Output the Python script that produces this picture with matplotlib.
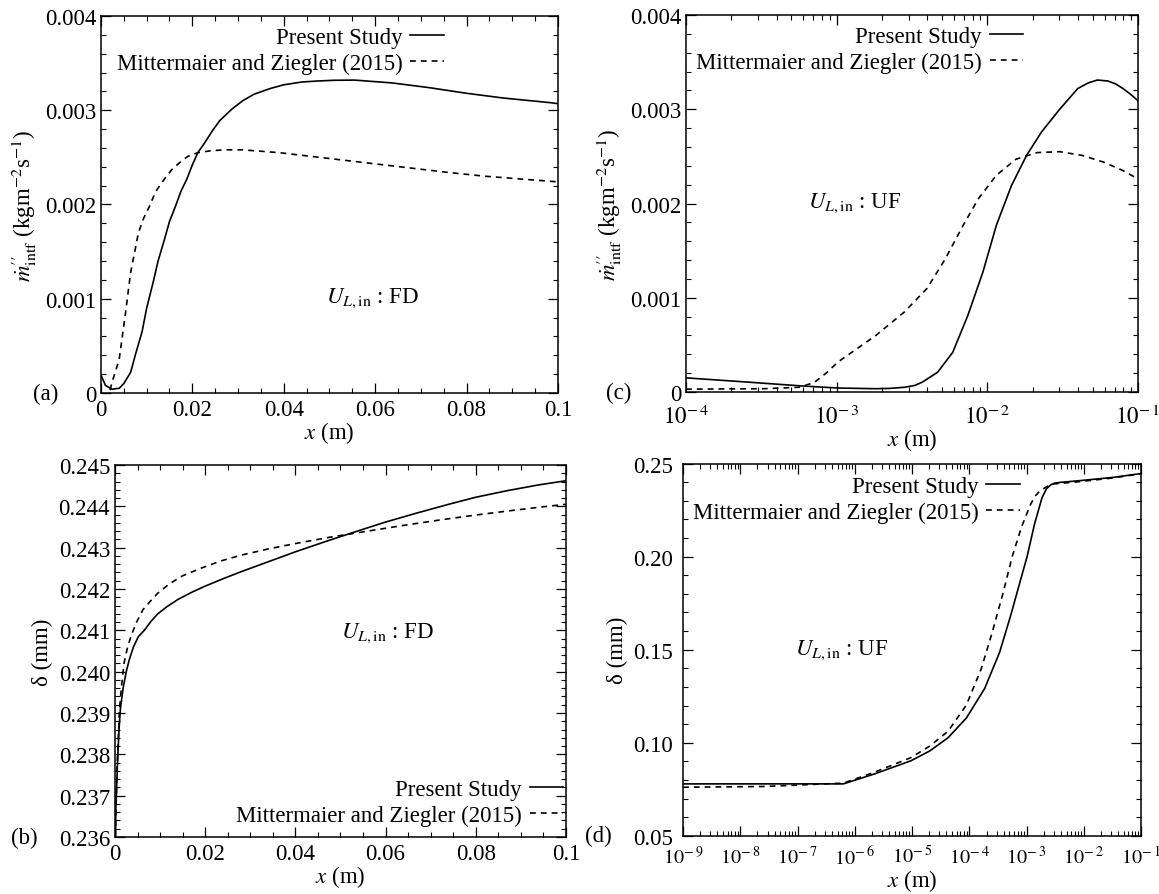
import numpy as np
import matplotlib
matplotlib.use('Agg')
import matplotlib.pyplot as plt
from matplotlib.ticker import MultipleLocator, FormatStrFormatter, LogLocator, NullFormatter, FuncFormatter

plt.rcParams['font.family'] = ['Liberation Serif', 'DejaVu Serif']
plt.rcParams['mathtext.fontset'] = 'stix'
plt.rcParams['font.size'] = 16.5

# (a) mass flux, FD inlet, linear x
xa_ps = [0.0, 0.001, 0.0024, 0.004, 0.005, 0.0065, 0.0075, 0.009, 0.010, 0.0114, 0.0125, 0.0139,
         0.015, 0.0163, 0.0175, 0.0188, 0.020, 0.0212, 0.0225, 0.0245, 0.026, 0.0286, 0.031, 0.0335,
         0.037, 0.040, 0.044, 0.0473, 0.051, 0.0555, 0.0637, 0.0718, 0.080, 0.088, 0.0984, 0.1]
ya_ps = [0.00019, 0.00008, 0.00004, 0.00005, 0.0001, 0.00022, 0.0004, 0.00065, 0.0009, 0.00117,
         0.0014, 0.00163, 0.00182, 0.00198, 0.00214, 0.00227, 0.00242, 0.00255, 0.00264, 0.00279,
         0.00289, 0.00301, 0.0031, 0.00317, 0.00323, 0.00327, 0.0033, 0.00331, 0.003318, 0.00332,
         0.00329, 0.00324, 0.00318, 0.00313, 0.00308, 0.00307]
xa_mz = [0.002, 0.00245, 0.003, 0.004, 0.0053, 0.0065, 0.0074, 0.0082, 0.0093, 0.0106, 0.012,
         0.0139, 0.0155, 0.0171, 0.019, 0.0212, 0.024, 0.027, 0.031, 0.039, 0.0514, 0.0637, 0.076,
         0.084, 0.092, 0.1]
ya_mz = [0.00003, 0.00012, 0.0002, 0.00036, 0.00082, 0.00128, 0.0015, 0.0017, 0.00185, 0.00198,
         0.00214, 0.00227, 0.00237, 0.00244, 0.00251, 0.00255, 0.00257, 0.00258, 0.00258, 0.00255,
         0.00248, 0.00241, 0.00234, 0.0023, 0.00227, 0.00224]

# (c) mass flux, UF inlet, log x
xc_ps = [1e-4, 10**-3.6, 10**-3.23, 10**-2.99, 10**-2.74, 10**-2.65, 10**-2.55, 10**-2.48, 10**-2.43,
         10**-2.33, 10**-2.23, 10**-2.13, 10**-2.03, 10**-1.94, 10**-1.84, 10**-1.74, 10**-1.64,
         10**-1.52, 10**-1.40, 10**-1.33, 10**-1.27, 10**-1.20, 10**-1.15, 10**-1.10, 10**-1.05, 1e-1]
yc_ps = [0.00015, 0.000106, 0.000064, 0.000042, 0.000035, 0.000038, 0.00005, 0.00007, 0.000106,
         0.00021, 0.00042, 0.00081, 0.00127, 0.00177, 0.00219, 0.00251, 0.00276, 0.0030, 0.00322,
         0.00328, 0.00331, 0.0033, 0.00327, 0.00322, 0.00316, 0.00309]
xc_mz = [1e-4, 10**-3.48, 10**-3.25, 10**-3.15, 10**-3.07, 10**-2.99, 10**-2.74, 10**-2.55, 10**-2.40,
         10**-2.28, 10**-2.16, 10**-2.06, 10**-1.94, 10**-1.81, 10**-1.67, 10**-1.52, 10**-1.37,
         10**-1.23, 10**-1.10, 1e-1]
yc_mz = [0.00003, 0.000035, 0.00005, 0.0001, 0.0002, 0.00032, 0.0006, 0.00085, 0.0011, 0.00141,
         0.00177, 0.00205, 0.0023, 0.00247, 0.00254, 0.00255, 0.00251, 0.00244, 0.00235, 0.00226]

# (b) film thickness, FD inlet, linear x
xb_ps = [0.0001, 0.0002, 0.0006, 0.0009, 0.0012, 0.0018, 0.0025, 0.0032, 0.0041, 0.0052, 0.0065,
         0.008, 0.0095, 0.0115, 0.014, 0.017, 0.020, 0.024, 0.028, 0.033, 0.040, 0.047, 0.054, 0.060,
         0.067, 0.074, 0.080, 0.087, 0.094, 0.1]
yb_ps = [0.2360, 0.2367, 0.2379, 0.2386, 0.2391, 0.2396, 0.2400, 0.2403, 0.2406, 0.24085, 0.2410,
         0.24122, 0.2414, 0.24157, 0.24175, 0.24192, 0.24207, 0.24225, 0.24242, 0.24262, 0.24290,
         0.24316, 0.24341, 0.24362, 0.24384, 0.24405, 0.24422, 0.24438, 0.24452, 0.24462]
xb_mz = [0.0001, 0.0004, 0.001, 0.0015, 0.002, 0.0028, 0.0037, 0.0048, 0.0062, 0.0078, 0.0095,
         0.012, 0.015, 0.019, 0.0235, 0.028, 0.034, 0.040, 0.048, 0.056, 0.064, 0.072, 0.080, 0.088,
         0.095, 0.1]
yb_mz = [0.2360, 0.2375, 0.2391, 0.2397, 0.2402, 0.2406, 0.2409, 0.2412, 0.2415, 0.2417, 0.2419,
         0.24212, 0.24232, 0.24250, 0.24268, 0.24282, 0.24297, 0.24310, 0.24326, 0.24340, 0.24354,
         0.24367, 0.24379, 0.24390, 0.24399, 0.24405]

# (d) film thickness, UF inlet, log x
xd_ps = [1e-9, 10**-6.2, 10**-5.66, 10**-5.02, 10**-4.69, 10**-4.37, 10**-4.05, 10**-3.73, 10**-3.47,
         10**-3.28, 10**-3.12, 10**-2.99, 10**-2.86, 10**-2.73, 10**-2.65, 10**-2.57, 10**-2.5,
         10**-2.4, 10**-2.32, 10**-2.0, 10**-1.5, 1e-1]
yd_ps = [0.0779, 0.0779, 0.0832, 0.0903, 0.0956, 0.1027, 0.1133, 0.1292, 0.1486, 0.168, 0.1857,
         0.200, 0.2175, 0.2316, 0.2365, 0.2387, 0.2395, 0.2399, 0.2401, 0.2410, 0.2425, 0.2446]
xd_mz = [1e-9, 10**-7.59, 10**-6.2, 10**-5.66, 10**-5.02, 10**-4.69, 10**-4.37, 10**-4.05, 10**-3.79,
         10**-3.60, 10**-3.41, 10**-3.25, 10**-3.09, 10**-2.93, 10**-2.85, 10**-2.77, 10**-2.65,
         10**-2.54, 10**-2.12, 10**-1.5, 1e-1]
yd_mz = [0.0761, 0.0765, 0.0783, 0.0841, 0.092, 0.0982, 0.1062, 0.1203, 0.1398, 0.1592, 0.1804,
         0.200, 0.2157, 0.228, 0.2325, 0.2351, 0.2375, 0.239, 0.2401, 0.2422, 0.2445]

lab_ps = 'Present Study'
lab_mz = 'Mittermaier and Ziegler (2015)'
ylab_m = r"${\dot{m}}^{\prime\prime}_{\mathrm{intf}}$ (kgm$^{-2}$s$^{-1}$)"
ylab_d = 'δ (mm)'
xlab = r'$x$ (m)'

fig = plt.figure(figsize=(11.59, 8.95), dpi=100)
ax_a = fig.add_axes([0.0871, 0.5598, 0.3943, 0.4212])
ax_c = fig.add_axes([0.5919, 0.5609, 0.3900, 0.4212])
ax_b = fig.add_axes([0.0992, 0.0637, 0.3891, 0.4156])
ax_d = fig.add_axes([0.5893, 0.0650, 0.3952, 0.4160])

lw = 1.2
dash = (3.5, 3)
fs = 16.5


def logfmt(v, pos):
    return r'$10^{\!-%d}$' % int(round(-np.log10(v)))


def style(ax, xpad=4, ypad=3.5):
    ax.tick_params(which='both', direction='in', top=True, right=True, labelsize=fs)
    ax.tick_params(axis='x', which='major', pad=xpad)
    ax.tick_params(axis='y', which='major', pad=ypad)
    ax.tick_params(which='major', length=7, width=0.9)
    ax.tick_params(which='minor', length=3.5, width=0.8)
    for s in ax.spines.values():
        s.set_linewidth(1.1)


def legend(ax, loc, anchor):
    ax.legend(loc=loc, bbox_to_anchor=anchor, frameon=False, markerfirst=False,
              borderpad=0, borderaxespad=0, handlelength=1.45, handletextpad=0.35,
              labelspacing=0.2, fontsize=fs)
    for t in ax.get_legend().get_texts():
        t.set_ha('right')


# (a)
ax = ax_a
ax.plot(xa_ps, ya_ps, 'k-', lw=lw, label=lab_ps)
ax.plot(xa_mz, ya_mz, 'k--', lw=lw, dashes=dash, label=lab_mz)
ax.set_xlim(0, 0.1)
ax.set_ylim(0, 0.004)
ax.xaxis.set_major_locator(MultipleLocator(0.02))
ax.xaxis.set_minor_locator(MultipleLocator(0.005))
ax.yaxis.set_major_locator(MultipleLocator(0.001))
ax.yaxis.set_minor_locator(MultipleLocator(0.0002))
ax.xaxis.set_major_formatter(FormatStrFormatter('%g'))
ax.yaxis.set_major_formatter(FormatStrFormatter('%g'))
ax.set_xlabel(xlab, labelpad=0)
ax.set_ylabel(ylab_m, labelpad=4)
ax.text(0.595, 0.255, r'$U_{L,\mathrm{in}}$ : FD', transform=ax.transAxes, ha='center', va='center')
ax.text(-0.12, 0.0, '(a)', transform=ax.transAxes, ha='center', va='center')
legend(ax, 'upper right', (0.75, 0.97))
style(ax)

# (c)
ax = ax_c
ax.plot(xc_ps, yc_ps, 'k-', lw=lw, label=lab_ps)
ax.plot(xc_mz, yc_mz, 'k--', lw=lw, dashes=dash, label=lab_mz)
ax.set_xscale('log')
ax.set_xlim(1e-4, 1e-1)
ax.set_ylim(0, 0.004)
ax.xaxis.set_major_locator(LogLocator(base=10, numticks=20))
ax.xaxis.set_minor_locator(LogLocator(base=10, subs=np.arange(2, 10), numticks=100))
ax.xaxis.set_major_formatter(FuncFormatter(logfmt))
ax.xaxis.set_minor_formatter(NullFormatter())
ax.yaxis.set_major_locator(MultipleLocator(0.001))
ax.yaxis.set_minor_locator(MultipleLocator(0.0002))
ax.yaxis.set_major_formatter(FormatStrFormatter('%g'))
ax.set_xlabel(xlab, labelpad=-1)
ax.set_ylabel(ylab_m, labelpad=4)
ax.text(0.373, 0.504, r'$U_{L,\mathrm{in}}$ : UF', transform=ax.transAxes, ha='center', va='center')
ax.text(-0.15, 0.0, '(c)', transform=ax.transAxes, ha='center', va='center')
legend(ax, 'upper right', (0.745, 0.97))
style(ax, xpad=9)

# (b)
ax = ax_b
ax.plot(xb_ps, yb_ps, 'k-', lw=lw, label=lab_ps)
ax.plot(xb_mz, yb_mz, 'k--', lw=lw, dashes=dash, label=lab_mz)
ax.set_xlim(0, 0.1)
ax.set_ylim(0.236, 0.245)
ax.xaxis.set_major_locator(MultipleLocator(0.02))
ax.xaxis.set_minor_locator(MultipleLocator(0.005))
ax.yaxis.set_major_locator(MultipleLocator(0.001))
ax.yaxis.set_minor_locator(MultipleLocator(0.0002))
ax.xaxis.set_major_formatter(FormatStrFormatter('%g'))
ax.yaxis.set_major_formatter(FormatStrFormatter('%.3f'))
ax.set_xlabel(xlab, labelpad=0)
ax.set_ylabel(ylab_d, labelpad=4)
ax.text(0.605, 0.551, r'$U_{L,\mathrm{in}}$ : FD', transform=ax.transAxes, ha='center', va='center')
ax.text(-0.20, 0.0, '(b)', transform=ax.transAxes, ha='center', va='center')
legend(ax, 'lower right', (0.993, 0.03))
style(ax)

# (d)
ax = ax_d
ax.plot(xd_ps, yd_ps, 'k-', lw=lw, label=lab_ps)
ax.plot(xd_mz, yd_mz, 'k--', lw=lw, dashes=dash, label=lab_mz)
ax.set_xscale('log')
ax.set_xlim(1e-9, 1e-1)
ax.set_ylim(0.05, 0.25)
ax.xaxis.set_major_locator(LogLocator(base=10, numticks=20))
ax.xaxis.set_minor_locator(LogLocator(base=10, subs=np.arange(2, 10), numticks=200))
ax.xaxis.set_major_formatter(FuncFormatter(logfmt))
ax.xaxis.set_minor_formatter(NullFormatter())
ax.yaxis.set_major_locator(MultipleLocator(0.05))
ax.yaxis.set_minor_locator(MultipleLocator(0.01))
ax.yaxis.set_major_formatter(FormatStrFormatter('%.2f'))
ax.set_xlabel(xlab, labelpad=-1)
ax.set_ylabel(ylab_d, labelpad=4)
ax.text(0.346, 0.50, r'$U_{L,\mathrm{in}}$ : UF', transform=ax.transAxes, ha='center', va='center')
ax.text(-0.185, 0.0, '(d)', transform=ax.transAxes, ha='center', va='center')
legend(ax, 'upper right', (0.735, 0.966))
style(ax, xpad=7, ypad=7)
ax.tick_params(axis='x', which='major', labelsize=14.5)

fig.savefig('out.png', dpi=100)
